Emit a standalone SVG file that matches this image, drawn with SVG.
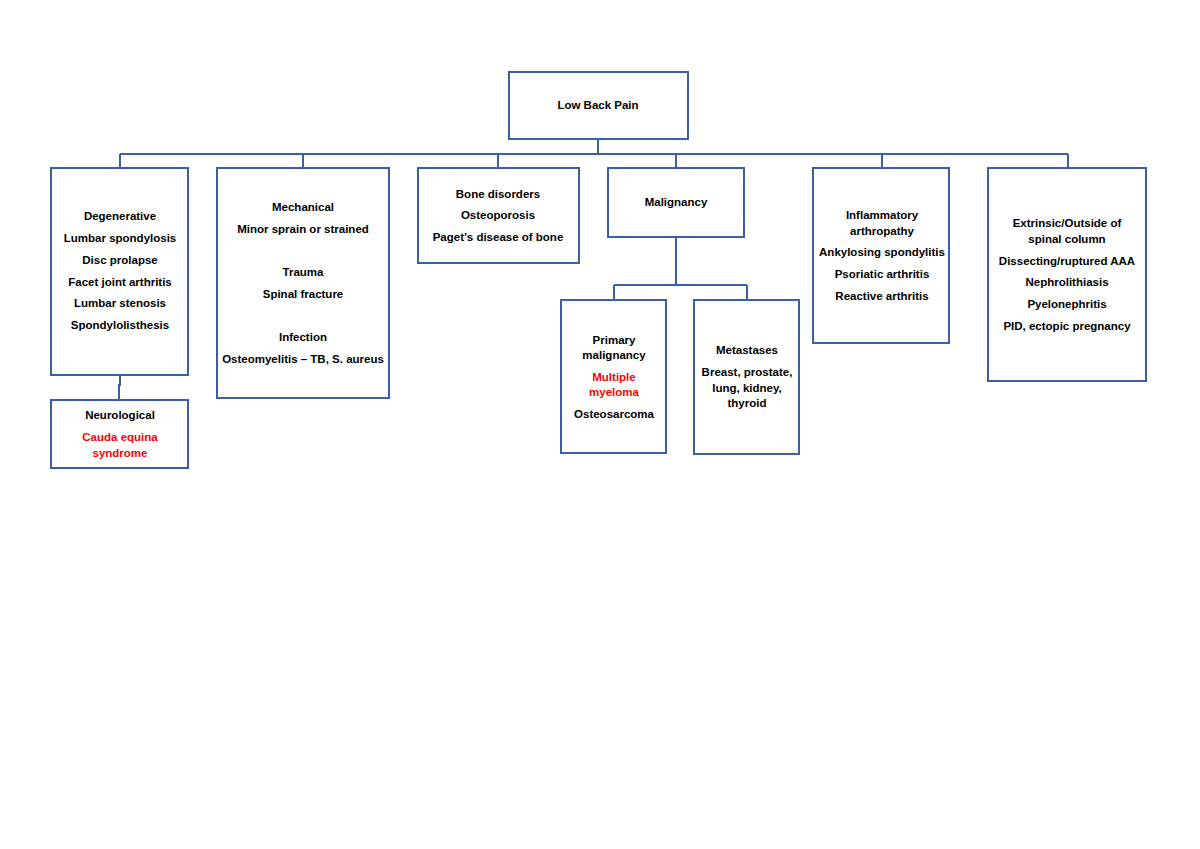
<svg xmlns="http://www.w3.org/2000/svg" width="1200" height="849" viewBox="0 0 1200 849">
<style>
.b{fill:#fff;stroke:#3a5ea8;stroke-width:2}
.c{fill:none;stroke:#3a5ea8;stroke-width:2}
text{font-family:"Liberation Sans",Arial,sans-serif;font-size:11.5px;font-weight:bold;text-anchor:middle;fill:#000}
.r{fill:#ff0000}
</style>
<rect width="1200" height="849" fill="#fff"/>
<g id="connectors">
<path class="c" d="M598 139V154M120 154H1068M120 154V168M303 154V168M498 154V168M676 154V168M882 154V168M1068 154V168"/>
<path class="c" d="M120 375V385H119V400"/>
<path class="c" d="M676 237V285M614 285H747M614 285V300M747 285V300"/>
</g>
<g id="root"><rect class="b" x="509" y="72" width="179" height="67"/><text x="598" y="109">Low Back Pain</text></g>
<g id="degenerative"><rect class="b" x="51" y="168" width="137" height="207"/>
<text x="120" y="220">Degenerative</text><text x="120" y="242">Lumbar spondylosis</text><text x="120" y="264">Disc prolapse</text><text x="120" y="286">Facet joint arthritis</text><text x="120" y="307">Lumbar stenosis</text><text x="120" y="329">Spondylolisthesis</text></g>
<g id="neurological"><rect class="b" x="51" y="400" width="137" height="68"/>
<text x="120" y="419">Neurological</text><text class="r" x="120" y="441">Cauda equina</text><text class="r" x="120" y="457">syndrome</text></g>
<g id="mechanical"><rect class="b" x="217" y="168" width="172" height="230"/>
<text x="303" y="211">Mechanical</text><text x="303" y="233">Minor sprain or strained</text><text x="303" y="276">Trauma</text><text x="303" y="298">Spinal fracture</text><text x="303" y="341">Infection</text><text x="303" y="363">Osteomyelitis – TB, S. aureus</text></g>
<g id="bone"><rect class="b" x="418" y="168" width="161" height="95"/>
<text x="498" y="198">Bone disorders</text><text x="498" y="219">Osteoporosis</text><text x="498" y="241">Paget’s disease of bone</text></g>
<g id="malignancy"><rect class="b" x="608" y="168" width="136" height="69"/><text x="676" y="206">Malignancy</text></g>
<g id="primary"><rect class="b" x="561" y="300" width="105" height="153"/>
<text x="614" y="344">Primary</text><text x="614" y="359">malignancy</text><text class="r" x="614" y="381">Multiple</text><text class="r" x="614" y="396">myeloma</text><text x="614" y="418">Osteosarcoma</text></g>
<g id="metastases"><rect class="b" x="694" y="300" width="105" height="154"/>
<text x="747" y="354">Metastases</text><text x="747" y="376">Breast, prostate,</text><text x="747" y="392">lung, kidney,</text><text x="747" y="407">thyroid</text></g>
<g id="inflammatory"><rect class="b" x="813" y="168" width="136" height="175"/>
<text x="882" y="219">Inflammatory</text><text x="882" y="235">arthropathy</text><text x="882" y="256">Ankylosing spondylitis</text><text x="882" y="278">Psoriatic arthritis</text><text x="882" y="300">Reactive arthritis</text></g>
<g id="extrinsic"><rect class="b" x="988" y="168" width="158" height="213"/>
<text x="1067" y="227">Extrinsic/Outside of</text><text x="1067" y="243">spinal column</text><text x="1067" y="265">Dissecting/ruptured AAA</text><text x="1067" y="286">Nephrolithiasis</text><text x="1067" y="308">Pyelonephritis</text><text x="1067" y="330">PID, ectopic pregnancy</text></g>
</svg>
